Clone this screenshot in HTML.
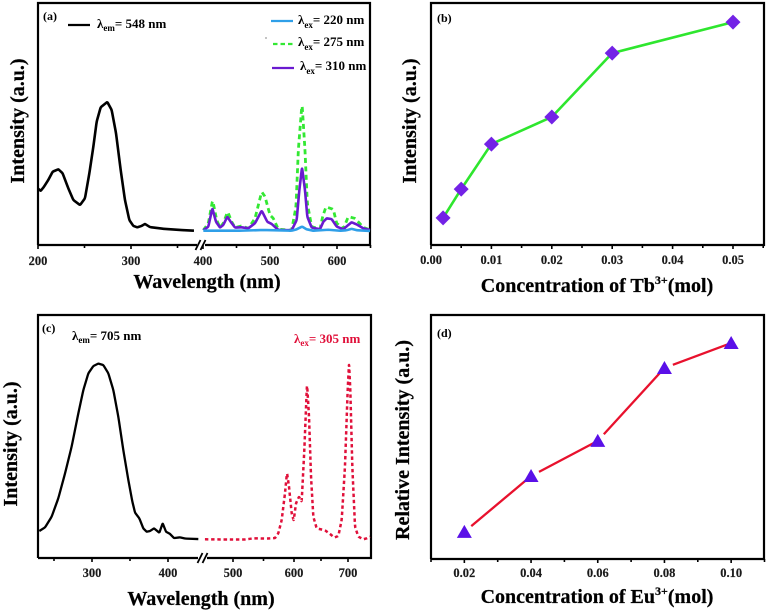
<!DOCTYPE html>
<html>
<head>
<meta charset="utf-8">
<title>Excitation and emission spectra with concentration plots</title>
<style>
html,body{margin:0;padding:0;background:#fff;}
svg{display:block;}
text{font-family:"Liberation Serif",serif;font-weight:bold;fill:#000;}
.tick{font-size:12.5px;text-anchor:middle;fill:#1a1a1a;stroke:#1a1a1a;stroke-width:0.15;}
.title{font-size:20px;stroke:#000;stroke-width:0.25;}
.note{font-size:13px;}
.sub{font-size:9px;}
</style>
</head>
<body>
<svg id="figure" xmlns="http://www.w3.org/2000/svg" width="767" height="612" viewBox="0 0 767 612">
  <g id="marks"></g>

  <g>
    <text x="43" y="20" font-size="12">(a)</text>
    <text x="17" y="121" class="title" text-anchor="middle" transform="rotate(-90 17 121) translate(0 7)">Intensity (a.u.)</text>
    <text x="207" y="288" class="title" text-anchor="middle">Wavelength (nm)</text>
    <line x1="68" x2="90" y1="25" y2="25" stroke="#000" stroke-width="2.2"></line>
    <text x="97" y="28" class="note">λ<tspan class="sub" dy="3">em</tspan><tspan dy="-3">= 548 nm</tspan></text>
    <line x1="271" x2="293" y1="21" y2="21" stroke="#2f9fe8" stroke-width="2.2"></line>
    <text x="298" y="24" class="note">λ<tspan class="sub" dy="4">ex</tspan><tspan dy="-4">= 220 nm</tspan></text>
    <circle cx="266" cy="38" r="0.6" fill="#333"></circle>
    <line x1="273" x2="293" y1="44" y2="44" stroke="#33e833" stroke-width="2.2" stroke-dasharray="4.5 3"></line>
    <text x="298" y="46" class="note">λ<tspan class="sub" dy="4">ex</tspan><tspan dy="-4">= 275 nm</tspan></text>
    <line x1="272" x2="294" y1="68" y2="68" stroke="#6a1ad0" stroke-width="2.2"></line>
    <text x="300" y="70" class="note">λ<tspan class="sub" dy="4">ex</tspan><tspan dy="-4">= 310 nm</tspan></text>
  </g>

  <g>
    <text x="437" y="22" font-size="12">(b)</text>
    <text x="409" y="121" class="title" text-anchor="middle" transform="rotate(-90 409 121) translate(0 7)">Intensity (a.u.)</text>
    <text x="597" y="292" class="title" text-anchor="middle">Concentration of Tb<tspan font-size="12" dy="-8">3+</tspan><tspan dy="8">(mol)</tspan></text>
  </g>

  <g>
    <text x="42" y="332" font-size="12">(c)</text>
    <text x="10" y="444" class="title" text-anchor="middle" transform="rotate(-90 10 444) translate(0 7)">Intensity (a.u.)</text>
    <text x="201" y="605" class="title" text-anchor="middle">Wavelength (nm)</text>
    <text x="72" y="340" class="note">λ<tspan class="sub" dy="3">em</tspan><tspan dy="-3">= 705 nm</tspan></text>
    <text x="294" y="343" class="note" style="fill:#e0103a">λ<tspan class="sub" style="fill:#e0103a" dy="3">ex</tspan><tspan style="fill:#e0103a" dy="-3">= 305 nm</tspan></text>
  </g>

  <g>
    <text x="437" y="337" font-size="12">(d)</text>
    <text x="402" y="440" class="title" text-anchor="middle" transform="rotate(-90 402 440) translate(0 7)">Relative Intensity (a.u.)</text>
    <text x="597" y="603" class="title" text-anchor="middle">Concentration of Eu<tspan font-size="12" dy="-8">3+</tspan><tspan dy="8">(mol)</tspan></text>
  </g>
</svg>

<script>
// Panel (a) excitation, black
const aExcNm = [200,202.9,206.5,211.1,215.8,221.9,226.5,232.6,238,245.2,250.5,255.2,259.5,263.1,267.4,274.5,279.2,283.9,288.9,293.5,298.2,302.5,306.8,311.5,315,320.4,334.8,352.7,367.7];
const aExcI = [23.3,22.4,24.1,26.9,30.3,31.3,29.6,23.4,18.6,16.5,19.3,29.6,40.6,51,56.9,59.1,55.8,46.2,31,18.6,10.3,7.9,7.3,7.9,8.7,7.4,6.7,6.2,5.9];

// Panel (a) emission series
const a220Nm = [400.5,455.2,490,532.3,539.8,547.8,554.7,564.7,587,604.5,614.4,621.9,629.4,649.3];
const a220I = [5.9,5.9,6.2,5.9,6.5,7.6,6.5,5.9,6.3,5.9,6.1,6.7,6.1,5.8];
const a275Nm = [400.5,408,414.4,420.4,425.4,430.3,436.8,442.8,447.8,457.7,467.7,477.6,487.6,492.5,500,505,512.4,532.3,538.8,542.3,547.8,552.2,555.7,562.2,574.6,578.6,583.6,594.5,599.5,609.4,616.9,626.9,639.3,649.3];
const a275I = [6.1,9,18.6,10.3,7.2,9,13.8,9.6,7.2,7.9,6.9,11,22,20,12.4,11,6.5,6.1,15.8,39.3,58.5,39.3,17.2,7.6,6.5,11.7,15.8,14.7,9,6.7,11.7,11,7.3,6.2];
const a310Nm = [400.5,408,413.9,419.4,425.4,430.3,436.3,441.3,447.8,457.7,467.7,477.6,487.6,496,502.5,512.4,532.3,539.8,543.8,547.8,552.2,555.7,562.2,574.6,579.6,584.6,592,599.5,609.4,616.9,621.9,629.4,639.3,649.3];
const a310I = [6.1,7.6,15.2,9.6,7.2,8.3,11.7,9.6,7.2,7.3,6.9,9,14.2,9.6,8.7,6.2,6.1,10.3,22.7,32.1,22.7,11.7,7.2,6.5,9.6,11,10.7,7.6,6.5,8.3,9.4,8.5,6.9,6.2];

// Panel (b)
const bConc = [0.002,0.005,0.01,0.02,0.03,0.05];
const bI = [11.2,23.1,41.7,52.9,79.3,92.1];

// Panel (c)
const cExcNm = [230.7,238.2,246.9,255.7,264.5,273.2,282,288.6,295.2,301.8,308.3,314.9,321.5,328.1,334.6,341.2,347.8,353.1,356.6,362.3,367.5,371.9,376.3,381.6,388.6,393,397.4,402.6,407.9,415.8,422.4,439.9];
const cExcI = [11.1,12.6,17,24.6,34.8,45.8,59.5,69.1,76,79,80,79.4,76,69.1,58.2,44.4,32.1,23.2,18.7,16.3,12.2,10.8,11.1,12.2,10.4,14.3,10.8,9.9,8.2,8.5,8,7.8];
const cEmNm = [454,492.3,519.7,533.3,555.2,568.9,574.3,579.8,585.2,588.5,591.8,596.2,599.5,603.7,609.3,614.2,619.1,624.1,627.8,631.5,635.8,642,657.4,666.7,674.7,682.1,688.3,694.4,699.4,701.9,704.3,708,713,719.1,728.4,734.6,740.7];
const cEmI = [7.7,7.6,7.6,8.1,8,8.2,10.2,15.6,26.6,35.1,29.4,18.4,15.4,22.5,25.2,23.2,44.4,71.9,58.2,33.5,17,12.2,11.4,9.9,8.4,9.1,15.6,37.6,69.1,80.1,69.1,37.6,12.9,8.8,7.7,8.1,8.8];

// Panel (d)
const dConc = [0.02,0.04,0.06,0.08,0.10];
const dI = [11.1,34,48.4,78.3,88.5];

// Tick labels
const aLeftTicks = [200,300];
const aLeftMinor = [250,350];
const aRightTicks = [400,500,600];
const aRightMinor = [450,550,650];
const bTicks = ["0.00","0.01","0.02","0.03","0.04","0.05"];
const bMinor = [0.005,0.015,0.025,0.035,0.045,0.055];
const cLeftTicks = [300,400];
const cLeftMinor = [250,350];
const cRightTicks = [500,600,700];
const cRightMinor = [550,650];
const dTicks = ["0.02","0.04","0.06","0.08","0.10"];
const dMinor = [0.01,0.03,0.05,0.07,0.09,0.11];

const NS = "http://www.w3.org/2000/svg";
const marks = document.getElementById("marks");

// Axis functions
function xA(nm){ return nm <= 385 ? 38 + (nm - 200) * 0.93 : 203 + (nm - 400) * 0.67; }
function yA(v){ return 245 - v * 2.42; }
function xB(c){ return 431 + c * 6040; }
function yB(v){ return 245 - v * 2.42; }
function xC(nm){
  if (nm <= 445) return 92 + (nm - 300) * 0.76;
  if (nm <= 600) return 233 + (nm - 500) * 0.61;
  if (nm <= 700) return 294 + (nm - 600) * 0.54;
  return 348 + (nm - 700) * 0.54;
}
function yC(v){ return 558 - v * 2.43; }
function xD(c){ return 431 + (c - 0.01) * 3335; }
function yD(v){ return 559 - v * 2.44; }

function curvePath(xs, ys, sx, sy){
  const p = xs.map(function(x, i){ return [sx(x), sy(ys[i])]; });
  const f = 0.12;
  let d = "M" + p[0][0].toFixed(2) + " " + p[0][1].toFixed(2);
  for (let i = 1; i < p.length - 1; i++){
    d += "L" + (p[i][0] * (1 - f) + p[i - 1][0] * f).toFixed(2) + " " + (p[i][1] * (1 - f) + p[i - 1][1] * f).toFixed(2);
    d += "Q" + p[i][0].toFixed(2) + " " + p[i][1].toFixed(2) + " " + (p[i][0] * (1 - f) + p[i + 1][0] * f).toFixed(2) + " " + (p[i][1] * (1 - f) + p[i + 1][1] * f).toFixed(2);
  }
  const last = p[p.length - 1];
  d += "L" + last[0].toFixed(2) + " " + last[1].toFixed(2);
  return d;
}

function curve(xs, ys, sx, sy, color, width, dash){
  const el = document.createElementNS(NS, "path");
  el.setAttribute("d", curvePath(xs, ys, sx, sy));
  el.setAttribute("fill", "none");
  el.setAttribute("stroke", color);
  el.setAttribute("stroke-width", width);
  el.setAttribute("stroke-linejoin", "round");
  if (dash) el.setAttribute("stroke-dasharray", dash);
  marks.appendChild(el);
  return el;
}

function seg(x1, y1, x2, y2, color, width){
  const el = document.createElementNS(NS, "line");
  el.setAttribute("x1", x1);
  el.setAttribute("y1", y1);
  el.setAttribute("x2", x2);
  el.setAttribute("y2", y2);
  el.setAttribute("stroke", color);
  el.setAttribute("stroke-width", width);
  marks.appendChild(el);
  return el;
}

function tickLabel(x, y, str){
  const el = document.createElementNS(NS, "text");
  el.setAttribute("x", x);
  el.setAttribute("y", y);
  el.setAttribute("class", "tick");
  el.textContent = str;
  marks.appendChild(el);
  return el;
}

function frame(left, top, right, bottom, gapFrom, gapTo){
  const d = document.createElementNS(NS, "path");
  let s = "M" + left + " " + bottom + "V" + top + "H" + right + "V" + bottom;
  if (gapFrom) {
    s += "H" + gapTo + "M" + gapFrom + " " + bottom + "H" + left;
  } else {
    s += "H" + left;
  }
  d.setAttribute("d", s);
  d.setAttribute("fill", "none");
  d.setAttribute("stroke", "#000");
  d.setAttribute("stroke-width", "2.2");
  marks.appendChild(d);
  return d;
}

function drawTicks(values, scale, baseY, labelY, len, labelled){
  values.forEach(function(v){
    const num = Number(v);
    const x = scale(num);
    const t = seg(x, baseY, x, baseY + len, "#000", 1.6);
    
    
    if (labelled){
      const l = tickLabel(x, labelY, String(v));
      
      
    }
  });
}

function breakMarks(x, y){
  [0, 5].forEach(function(dx){
    const b = seg(x + dx - 2.5, y + 5, x + dx + 2.5, y - 5, "#000", 1.8);
    
    
  });
}

// Frames
const fa = frame(38, 3, 370, 245, 197, 205);


const fb = frame(431, 3, 764, 245);


const fc = frame(38, 315, 371, 558, 198, 207);


const fd = frame(431, 315, 764, 559);



// Ticks
drawTicks(aLeftTicks, xA, 245, 265, 4, true);
drawTicks(aLeftMinor, xA, 245, 265, 3, false);
drawTicks(aRightTicks, xA, 245, 265, 4, true);
drawTicks(aRightMinor, xA, 245, 265, 3, false);
drawTicks(bTicks, xB, 245, 264, 4, true);
drawTicks(bMinor, xB, 245, 264, 3, false);
drawTicks(cLeftTicks, xC, 558, 577, 4, true);
drawTicks(cLeftMinor, xC, 558, 577, 3, false);
drawTicks(cRightTicks, xC, 558, 577, 4, true);
drawTicks(cRightMinor, xC, 558, 577, 3, false);
drawTicks(dTicks, xD, 559, 577, 4, true);
drawTicks(dMinor, xD, 559, 577, 3, false);
breakMarks(198, 245);
breakMarks(200, 558);

// Panel a curves
const aExcCurve = curve(aExcNm, aExcI, xA, yA, "#000", 2.6);


const a275Curve = curve(a275Nm, a275I, xA, yA, "#33e833", 2.8, "5 3.5");


const a310Curve = curve(a310Nm, a310I, xA, yA, "#6a1ad0", 2.6);


const a220Curve = curve(a220Nm, a220I, xA, yA, "#2f9fe8", 2.6);



// Panel c curves
const cExcCurve = curve(cExcNm, cExcI, xC, yC, "#000", 2.3);


const cEmCurve = curve(cEmNm, cEmI, xC, yC, "#e0103a", 2.5, "3.4 2.8");



// Panel b line and diamonds
for (let i = 0; i < bConc.length - 1; i++){
  const s = seg(xB(bConc[i]), yB(bI[i]), xB(bConc[i + 1]), yB(bI[i + 1]), "#2ee62e", 2.6);
  
  
}
bConc.forEach(function(c, i){
  const x = xB(c), y = yB(bI[i]), r = 7.5;
  const m = document.createElementNS(NS, "polygon");
  m.setAttribute("points", x + "," + (y - r) + " " + (x + r) + "," + y + " " + x + "," + (y + r) + " " + (x - r) + "," + y);
  m.setAttribute("fill", "#7322e6");
  
  
  marks.appendChild(m);
});

// Panel d line and triangles
for (let i = 0; i < dConc.length - 1; i++){
  const x1 = xD(dConc[i]), y1 = yD(dI[i]), x2 = xD(dConc[i + 1]), y2 = yD(dI[i + 1]);
  const len = Math.hypot(x2 - x1, y2 - y1);
  const gap = 9;
  const s = seg(x1 + (x2 - x1) * gap / len, y1 + (y2 - y1) * gap / len, x2, y2, "#e8112d", 2.3);
  
  
}
dConc.forEach(function(c, i){
  const x = xD(c), y = yD(dI[i]);
  const m = document.createElementNS(NS, "polygon");
  m.setAttribute("points", x + "," + (y - 7) + " " + (x + 7.5) + "," + (y + 6) + " " + (x - 7.5) + "," + (y + 6));
  m.setAttribute("fill", "#5a10e8");
  
  
  marks.appendChild(m);
});
</script>
</body>
</html>
